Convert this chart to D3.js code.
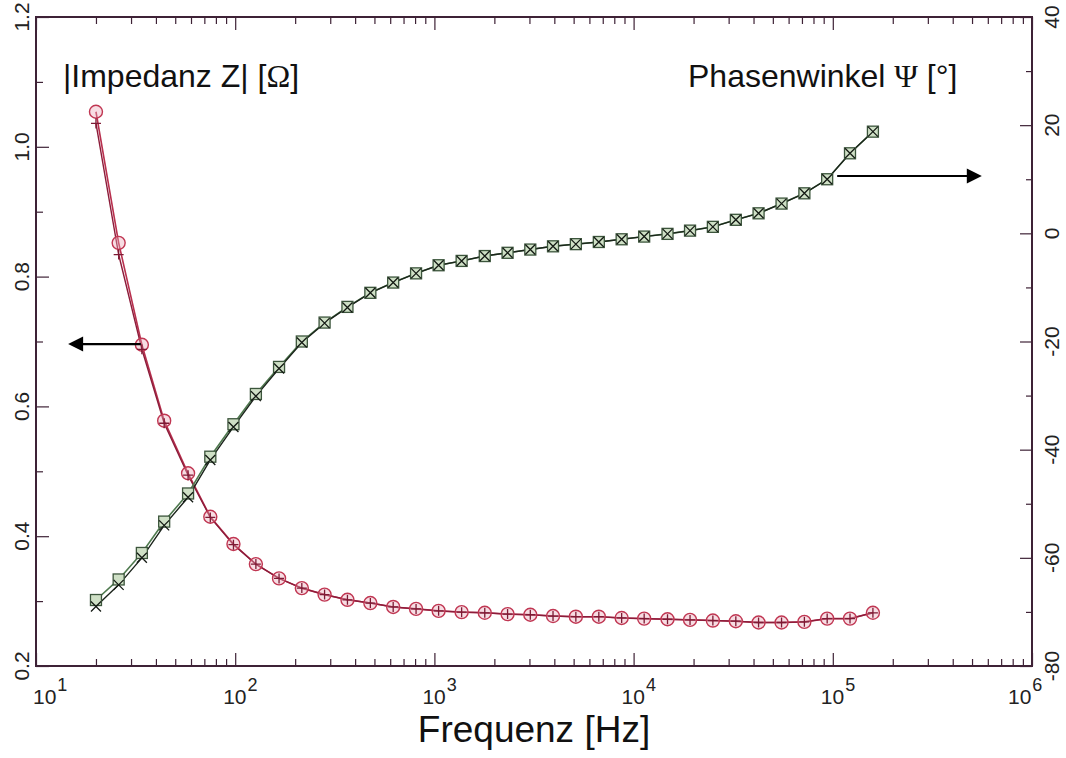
<!DOCTYPE html>
<html>
<head>
<meta charset="utf-8">
<script src="https://cdn.jsdelivr.net/npm/d3@7"></script>
<style>
  html, body { margin: 0; padding: 0; background: #fff; }
  svg { display: block; font-family: "Liberation Sans", Arial, sans-serif; }
</style>
</head>
<body>
<div id="chart"></div>
<script>
// measurement frequencies [Hz]
const freq = [20, 26, 34, 44, 58, 75, 98, 127, 166, 216, 281, 366, 477, 621, 809,
  1050, 1370, 1790, 2330, 3030, 3940, 5130, 6690, 8710, 11300, 14800, 19200, 25000,
  32600, 42400, 55300, 72000, 93700, 122000, 159000];

// |Z| [Ohm], two runs
const impedanceA = [1.054, 0.852, 0.695, 0.578, 0.497, 0.430, 0.388, 0.357, 0.335, 0.320,
  0.310, 0.302, 0.297, 0.291, 0.288, 0.285, 0.283, 0.282, 0.280, 0.279, 0.277, 0.276,
  0.276, 0.274, 0.273, 0.272, 0.271, 0.270, 0.269, 0.267, 0.267, 0.268, 0.273, 0.273, 0.282];
const impedanceB = [1.036, 0.834, 0.688, 0.574, 0.494, 0.429, 0.387, 0.357, 0.335, 0.320,
  0.310, 0.302, 0.297, 0.291, 0.288, 0.285, 0.283, 0.282, 0.280, 0.279, 0.277, 0.276,
  0.276, 0.274, 0.273, 0.272, 0.271, 0.270, 0.269, 0.267, 0.267, 0.268, 0.273, 0.273, 0.282];

// phase angle [deg], two runs
const phaseA = [-67.8, -64.0, -59.1, -53.3, -48.1, -41.3, -35.3, -29.7, -24.7, -20.0,
  -16.5, -13.6, -11.0, -9.1, -7.4, -5.9, -5.1, -4.2, -3.6, -3.0, -2.4, -2.0, -1.6,
  -1.1, -0.6, -0.1, 0.5, 1.2, 2.5, 3.7, 5.5, 7.4, 10.0, 14.8, 18.8];
const phaseB = [-69.0, -65.0, -60.0, -54.0, -48.8, -41.9, -35.8, -30.1, -25.0, -20.2,
  -16.6, -13.7, -11.0, -9.1, -7.4, -5.9, -5.1, -4.2, -3.6, -3.0, -2.4, -2.0, -1.6,
  -1.1, -0.6, -0.1, 0.5, 1.2, 2.5, 3.7, 5.5, 7.4, 10.0, 14.8, 18.8];

const zTicks = [0.2, 0.3, 0.4, 0.5, 0.6, 0.7, 0.8, 0.9, 1.0, 1.1, 1.2];
const zLabels = [0.2, 0.4, 0.6, 0.8, 1.0, 1.2];
const phTicks = [-80, -70, -60, -50, -40, -30, -20, -10, 0, 10, 20, 30, 40];
const phLabels = [-80, -60, -40, -20, 0, 20, 40];
const decades = [1e1, 1e2, 1e3, 1e4, 1e5, 1e6];
const exponents = ["1", "2", "3", "4", "5", "6"];

const width = 1066, height = 758;
const margin = { top: 17, right: 34, bottom: 92, left: 36 };
const frameColor = "#3e2236";

const svg = d3.select("#chart")
  .append("svg")
  .attr("width", width)
  .attr("height", height);

const x = d3.scaleLog().domain([1e1, 1e6]).range([margin.left, width - margin.right]);
const yZ = d3.scaleLinear().domain([0.2, 1.2]).range([height - margin.bottom, margin.top]);
const yP = d3.scaleLinear().domain([-80, 40]).range([height - margin.bottom, margin.top]);

const x0 = margin.left, x1 = width - margin.right;
const y0 = margin.top, y1 = height - margin.bottom;

// minor log ticks 2..9 in every decade
const minorX = [];
decades.slice(0, -1).forEach(d => {
  for (let k = 2; k <= 9; k++) minorX.push(d * k);
});

const styleAxis = g => {
  g.select(".domain").remove();
  g.selectAll(".tick line").attr("stroke", frameColor).attr("stroke-width", 1.2);
  g.selectAll(".tick text").remove();
};

// bottom + top ticks, pointing inwards
[[d3.axisBottom, y1], [d3.axisTop, y0]].forEach(([axisFn, ypos]) => {
  svg.append("g")
    .attr("transform", `translate(0,${ypos})`)
    .call(axisFn(x).tickValues(minorX).tickSize(-7).tickFormat(""))
    .call(styleAxis);
  svg.append("g")
    .attr("transform", `translate(0,${ypos})`)
    .call(axisFn(x).tickValues(decades).tickSize(-13).tickFormat(""))
    .call(styleAxis);
});

// left axis (impedance)
svg.append("g")
  .attr("transform", `translate(${x0},0)`)
  .call(d3.axisLeft(yZ).tickValues(zTicks.filter(v => !zLabels.includes(v))).tickSize(-7))
  .call(styleAxis);
svg.append("g")
  .attr("transform", `translate(${x0},0)`)
  .call(d3.axisLeft(yZ).tickValues(zLabels).tickSize(-13))
  .call(styleAxis);

// right axis (phase)
svg.append("g")
  .attr("transform", `translate(${x1},0)`)
  .call(d3.axisRight(yP).tickValues(phTicks.filter(v => !phLabels.includes(v))).tickSize(-6))
  .call(styleAxis);
svg.append("g")
  .attr("transform", `translate(${x1},0)`)
  .call(d3.axisRight(yP).tickValues(phLabels).tickSize(-12))
  .call(styleAxis);

// frame
svg.append("rect")
  .attr("x", x0).attr("y", y0)
  .attr("width", x1 - x0).attr("height", y1 - y0)
  .attr("fill", "none")
  .attr("stroke", frameColor)
  .attr("stroke-width", 2);

// tick labels
svg.selectAll("zLabel")
  .data(zLabels)
  .enter()
  .append("text")
  .attr("transform", d => `translate(${x0 - 15},${yZ(d)}) rotate(-90)`)
  .attr("text-anchor", "middle")
  .attr("dominant-baseline", "central")
  .style("font-size", "21px")
  .style("fill", "#222")
  .text(d => d.toFixed(1));

svg.selectAll("pLabel")
  .data(phLabels)
  .enter()
  .append("text")
  .attr("transform", d => `translate(${x1 + 19},${yP(d)}) rotate(-90)`)
  .attr("text-anchor", "middle")
  .attr("dominant-baseline", "central")
  .style("font-size", "21px")
  .style("fill", "#222")
  .text(d => d);

// decade labels: "10" sits on the tick, the outer two are pulled inside the frame
const xLab = svg.selectAll("xLabel")
  .data(decades)
  .enter()
  .append("text")
  .attr("x", d => Math.min(Math.max(x(d) - 12, x0 - 3), x1 - 24))
  .attr("y", y1 + 38)
  .attr("text-anchor", "start")
  .style("font-size", "21px")
  .style("fill", "#222");
xLab.append("tspan").text("10");
xLab.append("tspan")
  .attr("dy", -13)
  .attr("dx", 1)
  .style("font-size", "18px")
  .text((d, i) => exponents[i]);

// axis titles
svg.append("text")
  .attr("x", (x0 + x1) / 2)
  .attr("y", 742)
  .attr("text-anchor", "middle")
  .style("font-size", "37px")
  .style("fill", "#111")
  .text("Frequenz [Hz]");

const zTitle = svg.append("text")
  .attr("x", 63).attr("y", 87)
  .style("font-size", "32px")
  .style("fill", "#111");
zTitle.append("tspan").text("|Impedanz Z| [");
zTitle.append("tspan").style("font-family", "'Liberation Serif', 'Times New Roman', serif").text("Ω");
zTitle.append("tspan").text("]");

const pTitle = svg.append("text")
  .attr("x", 688).attr("y", 87)
  .style("font-size", "32px")
  .style("fill", "#111");
pTitle.append("tspan").text("Phasenwinkel ");
pTitle.append("tspan").style("font-family", "'Liberation Serif', 'Times New Roman', serif").text("Ψ");
pTitle.append("tspan").text(" [°]");

// curves
const series = [
  { values: impedanceA, y: yZ, line: "#b8304e", width: 1.6 },
  { values: impedanceB, y: yZ, line: "#8c1c3a", width: 1.4 },
  { values: phaseA, y: yP, line: "#4f7a4f", width: 1.6 },
  { values: phaseB, y: yP, line: "#1b241b", width: 1.4 },
];

series.forEach(s => {
  const line = d3.line()
    .x((d, i) => x(freq[i]))
    .y(d => s.y(d));
  svg.append("path")
    .attr("d", line(s.values))
    .attr("fill", "none")
    .attr("stroke", s.line)
    .attr("stroke-width", s.width);
});

const pts = s => s.values.map((v, i) => ({ cx: x(freq[i]), cy: s.y(v) }));

// circles (|Z| run A)
svg.append("g")
  .selectAll("circle")
  .data(pts(series[0]))
  .enter()
  .append("circle")
  .attr("cx", d => d.cx)
  .attr("cy", d => d.cy)
  .attr("r", 6.5)
  .attr("fill", "rgba(235,170,185,0.4)")
  .attr("stroke", "#c03652")
  .attr("stroke-width", 1.4);

// plus (|Z| run B)
svg.append("g")
  .selectAll("path")
  .data(pts(series[1]))
  .enter()
  .append("path")
  .attr("d", d => `M${d.cx - 5},${d.cy}h10M${d.cx},${d.cy - 5}v10`)
  .attr("stroke", "#7e1a34")
  .attr("stroke-width", 1.3);

// squares (phase run A)
svg.append("g")
  .selectAll("rect")
  .data(pts(series[2]))
  .enter()
  .append("rect")
  .attr("x", d => d.cx - 5.5)
  .attr("y", d => d.cy - 5.5)
  .attr("width", 11)
  .attr("height", 11)
  .attr("fill", "#cfe0c6")
  .attr("stroke", "#3c553c")
  .attr("stroke-width", 1.3);

// crosses (phase run B)
svg.append("g")
  .selectAll("path")
  .data(pts(series[3]))
  .enter()
  .append("path")
  .attr("d", d => `M${d.cx - 5},${d.cy - 5}l10,10M${d.cx - 5},${d.cy + 5}l10,-10`)
  .attr("stroke", "#141a14")
  .attr("stroke-width", 1.3);

// arrows pointing at the axis each curve belongs to
const arrowHead = (tipX, tipY, dir) =>
  `M${tipX},${tipY}L${tipX - dir * 15},${tipY - 7.5}L${tipX - dir * 15},${tipY + 7.5}Z`;

const leftArrow = { from: x(freq[2]) - 1, to: x(14.5), y: yZ(0.696) };
const rightArrow = { from: x(freq[32]) + 10, to: x(560000), y: yP(10.6) };

[[leftArrow, -1], [rightArrow, 1]].forEach(([a, dir]) => {
  svg.append("line")
    .attr("x1", a.from).attr("y1", a.y)
    .attr("x2", a.to - dir * 12).attr("y2", a.y)
    .attr("stroke", "#000")
    .attr("stroke-width", 2.2);
  svg.append("path")
    .attr("d", arrowHead(a.to, a.y, dir))
    .attr("fill", "#000");
});
</script>
</body>
</html>
